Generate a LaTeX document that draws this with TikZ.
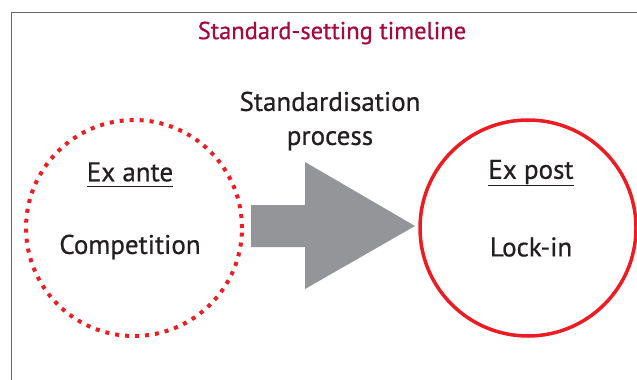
\documentclass[tikz,border=0pt]{standalone}
\usepackage{fontspec}
\setmainfont{PT Sans}[FakeBold=0.6]
\definecolor{titlered}{HTML}{A6093D}
\definecolor{circred}{HTML}{ED1C24}
\definecolor{arrowgray}{HTML}{939598}
\definecolor{txt}{HTML}{231F20}
\begin{document}
\begin{tikzpicture}[x=1pt,y=-1pt,
  lbl/.style={text=txt,font=\fontsize{27}{31}\selectfont,inner sep=0pt},
  circ/.style={circle,minimum size=216pt,inner sep=0pt}]
\useasboundingbox (0,0) rectangle (637,380);
\fill[white] (0,0) rectangle (637,380);
% frame
\draw[gray!80!black,line width=1pt] (11.5,385) -- (11.5,12) -- (645,12);
% title
\node[text=titlered,font=\fontsize{24.5}{28}\selectfont,inner sep=0pt] (title) at (332,33) {Standard-setting timeline};
% circles
\node[circ,draw=circred,line width=4pt,dash pattern=on 4pt off 6pt] (ante) at (134,228) {};
\node[circ,draw=circred,line width=3.5pt] (post) at (528,228) {};
% arrow
\fill[arrowgray] (251,205) -- (305,205) -- (305,162) -- (415,226) -- (305,289) -- (305,247) -- (251,247) -- cycle;
\node[lbl,align=center] (proc) at (330,121) {Standardisation\\[3pt]process};
% labels
\node[lbl] (exante) at (130,172) {Ex ante};
\draw[txt,line width=1.3pt] ([yshift=-5pt]exante.south west) -- ([yshift=-5pt]exante.south east);
\node[lbl] (comp) at (130,247) {Competition};
\node[lbl] (expost) at (531,172) {Ex post};
\draw[txt,line width=1.3pt] ([yshift=-1pt]expost.south west) -- ([yshift=-1pt]expost.south east);
\node[lbl] (lock) at (531,247) {Lock-in};
\end{tikzpicture}
\end{document}
